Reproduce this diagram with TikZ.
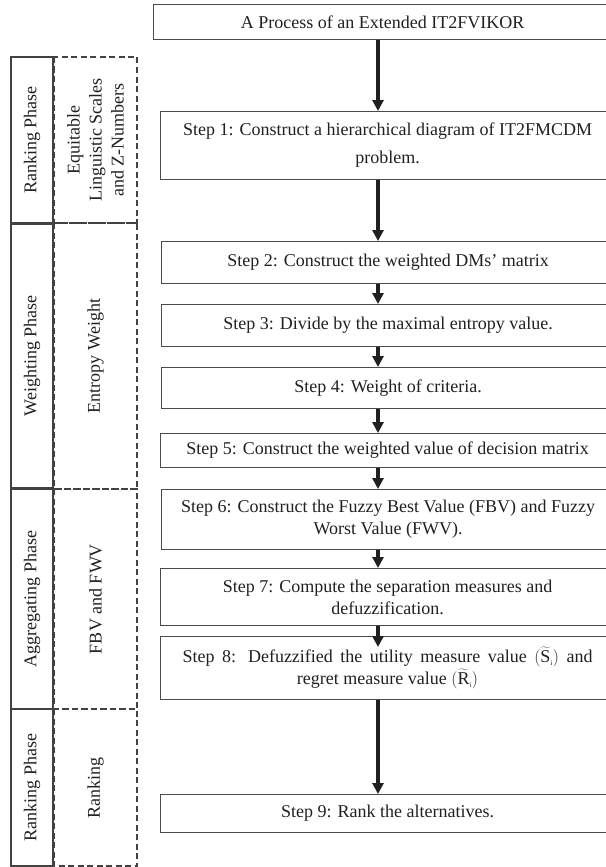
\documentclass[tikz,border=0pt]{standalone}
\usepackage{fontspec}
\setmainfont{Liberation Serif}
\usetikzlibrary{arrows.meta}
\definecolor{ink}{HTML}{231F20}
\definecolor{edge}{HTML}{4A4A4A}
\begin{document}
\begin{tikzpicture}[x=1pt,y=-1pt,
  every node/.style={text=ink},
  mainfont/.style={font=\fontsize{18}{22}\selectfont},
  stepbox/.style={draw=edge,line width=1.1pt,anchor=north west,inner sep=0pt,
    minimum width=454pt,align=center,mainfont},
  phasebox/.style={draw=ink!85,line width=1.2pt,rotate=90,inner sep=0pt,
    minimum height=42pt,mainfont},
  topicbox/.style={draw=ink!85,line width=1.1pt,dash pattern=on 6pt off 3.5pt,
    rotate=90,inner sep=0pt,minimum height=83pt,align=center,mainfont},
  arr/.style={draw=ink,line width=4pt,-{Triangle[length=11pt,width=11pt]}}]
\useasboundingbox (0,0) rectangle (605,867);

% flow boxes
\node[stepbox,minimum width=458pt,minimum height=35pt] (title) at (153,4) {A Process of an Extended IT2FVIKOR};
\node[stepbox,minimum height=68pt,font=\fontsize{18}{28}\selectfont] (s1) at (160,111)
  {Step 1: Construct a hierarchical diagram of IT2FMCDM\\problem.};
\node[stepbox,minimum width=453pt,minimum height=42pt] (s2) at (161,241) {Step 2: Construct the weighted DMs’ matrix};
\node[stepbox,minimum width=453pt,minimum height=42pt] (s3) at (161,304) {Step 3: Divide by the maximal entropy value.};
\node[stepbox,minimum width=453pt,minimum height=41pt] (s4) at (161,367) {Step 4: Weight of criteria.};
\node[stepbox,minimum height=34pt] (s5) at (160,433) {Step 5: Construct the weighted value of decision matrix};
\node[stepbox,minimum width=453pt,minimum height=60pt] (s6) at (161,489)
  {Step 6: Construct the Fuzzy Best Value (FBV) and Fuzzy\\Worst Value (FWV).};
\node[stepbox,minimum height=57pt] (s7) at (160,568)
  {Step 7: Compute the separation measures and\\defuzzification.};
\node[stepbox,minimum height=63pt] (s8) at (160,636)
  {\makebox[410pt][s]{Step 8: Defuzzified the utility measure value
   $(\widetilde{\mbox{S}}_{\mbox{\scriptsize i}})$ and}\\
   regret measure value $(\widetilde{\mbox{R}}_{\mbox{\scriptsize i}})$};
\node[stepbox,minimum height=38pt] (s9) at (160,794) {Step 9: Rank the alternatives.};

% arrows
\coordinate (ax) at (378,0);
\draw[arr] (title.south -| ax) -- (s1.north -| ax);
\draw[arr] (s1.south -| ax) -- (s2.north -| ax);
\draw[arr] (s2.south -| ax) -- (s3.north -| ax);
\draw[arr] (s3.south -| ax) -- (s4.north -| ax);
\draw[arr] (s4.south -| ax) -- (s5.north -| ax);
\draw[arr] (s5.south -| ax) -- (s6.north -| ax);
\draw[arr] (s6.south -| ax) -- (s7.north -| ax);
\draw[arr] (s7.south -| ax) -- ([yshift=-11pt]s8.north -| ax);
\draw[arr] (s8.south -| ax) -- (s9.north -| ax);

% phase column
\node[phasebox,minimum width=166pt] (p1) at (32,140) {Ranking Phase};
\node[phasebox,minimum width=264pt] (p2) at (32,356) {Weighting Phase};
\node[phasebox,minimum width=220pt] (p3) at (32,599) {Aggregating Phase};
\node[phasebox,minimum width=157pt] (p4) at (32,787.5) {Ranking Phase};

% topic column
\node[topicbox,minimum width=166pt] (d1) at (95.5,140) {Equitable\\Linguistic Scales\\and Z-Numbers};
\node[topicbox,minimum width=266pt] (d2) at (95.5,356) {Entropy Weight};
\node[topicbox,minimum width=220pt] (d3) at (95.5,599) {FBV and FWV};
\node[topicbox,minimum width=157pt] (d4) at (95.5,787.5) {Ranking};
\end{tikzpicture}
\end{document}
